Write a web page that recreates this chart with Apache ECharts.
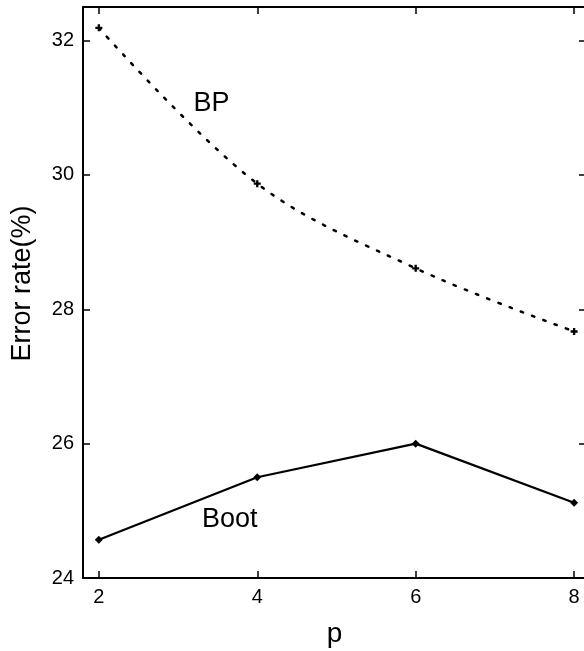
<!DOCTYPE html>
<html>
<head>
<meta charset="utf-8">
<script src="https://cdn.jsdelivr.net/npm/echarts@6/dist/echarts.min.js"></script>
<style>
html,body{margin:0;padding:0;background:#fff;}
#chart{width:584px;height:651px;}
</style>
</head>
<body>
<div id="chart"></div>
<script>
const pValues = [2, 4, 6, 8];
const bpValues = [32.19, 29.87, 28.61, 27.67];
const bootValues = [24.57, 25.50, 26.00, 25.12];
const xTicks = [2, 4, 6, 8];
const yTicks = [24, 26, 28, 30, 32];
const seriesNames = ['BP', 'Boot'];
const bpLabelAt = [3.43, 31.06];
const bootLabelAt = [3.66, 24.86];

const font = '"Liberation Sans", Arial, Helvetica, sans-serif';
const chart = echarts.init(document.getElementById('chart'), null, {renderer: 'canvas'});

const axisLine = {show: true, lineStyle: {color: '#000', width: 2}};
const tick = (vals) => ({show: true, inside: true, length: 7, customValues: vals, lineStyle: {color: '#000', width: 1.5}});
const textLabel = (txt) => ({
  show: true, formatter: txt, fontFamily: font, fontSize: 27, color: '#000', opacity: 1,
  position: [0, 0], align: 'center', verticalAlign: 'middle', textBorderWidth: 0
});

chart.setOption({
  animation: false,
  backgroundColor: '#fff',
  grid: {left: 83, top: 7, right: -2, bottom: 73, containLabel: false, outerBoundsMode: 'none'},
  xAxis: [{
    type: 'value', min: 1.8, max: 8.15,
    name: 'p', nameLocation: 'middle', nameGap: 42,
    nameTextStyle: {fontFamily: font, fontSize: 28, color: '#000'},
    axisLine: axisLine, axisTick: tick(xTicks), splitLine: {show: false},
    axisLabel: {customValues: xTicks, fontFamily: font, fontSize: 20, color: '#000', margin: 9}
  }, {
    type: 'value', position: 'top', min: 1.8, max: 8.15,
    axisLine: axisLine, axisTick: tick(xTicks), splitLine: {show: false},
    axisLabel: {show: false}
  }],
  yAxis: [{
    type: 'value', min: 24, max: 32.5,
    name: 'Error rate(%)', nameLocation: 'middle', nameGap: 47, nameRotate: 90,
    nameTextStyle: {fontFamily: font, fontSize: 27, color: '#000', padding: [0, 0, 0, 18]},
    axisLine: axisLine, axisTick: tick(yTicks), splitLine: {show: false},
    axisLabel: {customValues: yTicks, fontFamily: font, fontSize: 20, color: '#000', margin: 9}
  }, {
    type: 'value', position: 'right', min: 24, max: 32.5,
    axisLine: axisLine, axisTick: tick(yTicks), splitLine: {show: false},
    axisLabel: {show: false}
  }],
  series: [{
    name: seriesNames[0], type: 'line', smooth: 0.35,
    data: pValues.map((p, i) => [p, bpValues[i]]),
    symbol: 'path://M-1,-3h2v2h2v2h-2v2h-2v-2h-2v-2h2z', symbolSize: 7,
    itemStyle: {color: '#000'},
    lineStyle: {color: '#000', width: 2.5, type: [2.5, 9.5], cap: 'round'}
  }, {
    name: seriesNames[1], type: 'line',
    data: pValues.map((p, i) => [p, bootValues[i]]),
    symbol: 'diamond', symbolSize: 8,
    itemStyle: {color: '#000'},
    lineStyle: {color: '#000', width: 2.2}
  }, {
    type: 'scatter', symbol: 'circle', symbolSize: 1, silent: true,
    itemStyle: {color: '#fff', opacity: 0},
    data: [
      {value: bpLabelAt, label: textLabel(seriesNames[0])},
      {value: bootLabelAt, label: textLabel(seriesNames[1])}
    ]
  }]
});
</script>
</body>
</html>
